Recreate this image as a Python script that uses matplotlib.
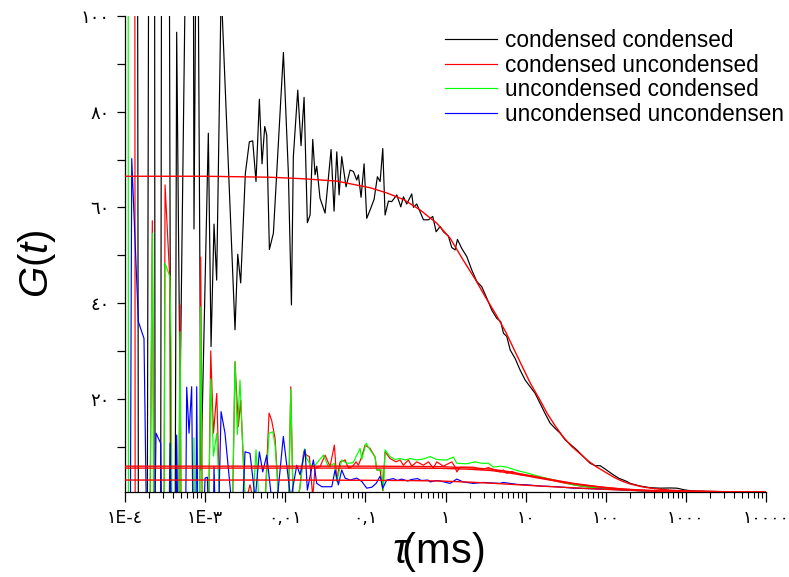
import numpy as np
import matplotlib.pyplot as plt
from matplotlib.ticker import FixedLocator, FixedFormatter, MultipleLocator, LogLocator, NullFormatter

plt.rcParams['font.family'] = ['Liberation Sans', 'DejaVu Sans']
plt.rcParams['mathtext.fontset'] = 'custom'
plt.rcParams['mathtext.rm'] = 'Liberation Sans'
plt.rcParams['mathtext.it'] = 'Liberation Sans:italic'

# lag times are stored as log10(tau / ms), amplitudes as G(tau)
cc_lag = [-4.0, -3.875, -3.792, -3.650, -3.600, -3.509, -3.396, -3.38, -3.355, -3.313,
          -3.25, -3.17, -3.139, -3.10, -3.051, -2.960, -2.926, -2.889, -2.856, -2.80,
          -2.627, -2.593, -2.556, -2.498, -2.448, -2.406, -2.365, -2.323, -2.290, -2.256,
          -2.231, -2.198, -2.148, -2.023, -1.961, -1.923, -1.899, -1.844, -1.803, -1.765,
          -1.724, -1.690, -1.657, -1.628, -1.607, -1.566, -1.503, -1.428, -1.391, -1.357,
          -1.328, -1.295, -1.241, -1.191, -1.149, -1.108, -1.087, -1.054, -1.016, -0.983,
          -0.933, -0.891, -0.850, -0.816, -0.783, -0.754, -0.712, -0.671, -0.608, -0.558,
          -0.525, -0.484, -0.421, -0.400, -0.359, -0.275, -0.213, -0.159, -0.117, -0.067,
          -0.026, 0.036, 0.078, 0.120, 0.149, 0.203, 0.266, 0.328, 0.391, 0.453,
          0.516, 0.578, 0.640, 0.690, 0.723, 0.765, 0.807, 0.869, 0.931, 0.994,
          1.056, 1.119, 1.181, 1.243, 1.306, 1.368, 1.431, 1.493, 1.556, 1.639,
          1.722, 1.805, 1.868, 1.930, 1.993, 2.076, 2.159, 2.264, 2.305, 2.43,
          2.554, 2.679, 2.804, 2.888, 2.991, 3.091, 3.3, 3.6, 4.0]
cc_g = [450, 500, -500, 500, -500, 500, -200, -40, 96.6, 20.1,
        105, 300, 55.5, 150, 5.1, 75.5, 30.9, 56.5, 44.8, 106,
        34.4, 50.2, 44.2, 67.1, 73.7, 73.9, 65.4, 82.6, 69.1, 76.9,
        75.1, 51.2, 54.6, 92.4, 67.1, 39.6, 70.6, 84.5, 72.9, 83.0,
        56.8, 58.4, 74.2, 66.8, 68.6, 61.9, 58.8, 72.1, 59.2, 71.6,
        62.6, 70.6, 64.3, 67.8, 67.5, 65.7, 66.8, 62.1, 69.1, 57.7,
        59.8, 61.7, 66.4, 65.4, 72.3, 58.4, 61.3, 61.2, 62.6, 60.1,
        62.2, 60.7, 62.8, 60.0, 60.7, 57.4, 57.4, 58.1, 54.9, 56.0,
        54.9, 54.0, 51.6, 51.1, 53.3, 51.4, 49.7, 46.9, 44.5, 43.4,
        41.0, 38.5, 36.8, 36.1, 33.7, 33.0, 30.2, 28.4, 26.0, 23.9,
        22.5, 21.1, 19.0, 16.9, 14.9, 13.8, 12.8, 11.4, 10.5, 9.3,
        7.9, 6.5, 6.0, 6.0, 5.3, 4.3, 3.4, 2.7, 2.3, 1.75,
        1.4, 1.3, 1.34, 1.3, 0.92, 0.7, 0.6, 0.55, 0.55]

cu_lag = [-4.0, -3.89, -3.86, -3.659, -3.61, -3.53, -3.50, -3.44, -3.42, -3.36,
          -3.313, -3.28, -3.08, -3.055, -3.03, -2.96, -2.93, -2.896, -2.855, -2.815,
          -2.66, -2.627, -2.585, -2.556, -2.50, -2.44, -2.40, -2.25, -2.202, -2.17,
          -2.127, -2.074, -1.96, -1.931, -1.90, -1.82, -1.77, -1.732, -1.699, -1.657,
          -1.628, -1.566, -1.503, -1.441, -1.387, -1.357, -1.316, -1.253, -1.212, -1.157,
          -1.116, -1.087, -1.045, -1.004, -0.941, -0.879, -0.858, -0.816, -0.783, -0.754,
          -0.692, -0.617, -0.567, -0.526, -0.463, -0.421, -0.358, -0.276, -0.213, -0.151,
          -0.109, -0.026, 0.079, 0.120, 0.141, 0.182, 0.348, 0.453, 0.536, 0.682,
          0.723, 0.765, 0.828, 0.931, 1.097, 1.265, 1.472, 1.680, 1.889, 2.139,
          2.43, 2.8, 3.2, 3.6, 4.0]
cu_g = [450, 500, -400, 57.2, -100, -100, 64.7, 44.8, -100, -100,
        39.6, -80, -60, 49.6, -20, -10, 30.0, 12.8, 21.1, -3,
        -5, 27.7, 14.2, 19.7, -2, 2.0, -1, -1, 17.0, 15.5,
        11.7, -3, -3, 22.5, -3, 1.0, 9.0, 8.2, 7.9, -0.5,
        5.5, 5.8, 8.2, 5.8, 10.3, 3.0, 6.8, 7.2, 5.5, 5.9,
        6.8, 6.1, 7.9, 10.3, 9.6, 7.8, 5.1, 5.1, 0.8, 8.9,
        7.5, 6.8, 7.2, 6.1, 7.2, 5.9, 6.8, 6.1, 6.8, 5.5,
        6.8, 5.9, 6.8, 5.7, 4.7, 5.7, 5.7, 5.2, 5.6, 4.7,
        5.1, 4.4, 4.8, 4.1, 3.8, 3.2, 2.4, 1.75, 1.3, 1.06,
        0.77, 0.65, 0.6, 0.58, 0.58]

uc_lag = [-4.0, -3.97, -3.945, -3.659, -3.615, -3.53, -3.50, -3.44, -3.425, -3.40,
          -3.35, -3.313, -3.28, -3.16, -3.139, -3.12, -3.09, -3.055, -3.02, -2.96,
          -2.93, -2.896, -2.855, -2.815, -2.66, -2.627, -2.598, -2.565, -2.50, -2.40,
          -2.365, -2.33, -2.25, -2.202, -2.156, -2.127, -2.074, -1.96, -1.931, -1.90,
          -1.82, -1.76, -1.732, -1.669, -1.628, -1.524, -1.462, -1.387, -1.357, -1.295,
          -1.232, -1.154, -1.066, -1.045, -0.991, -0.941, -0.879, -0.858, -0.795, -0.775,
          -0.754, -0.692, -0.629, -0.567, -0.504, -0.442, -0.358, -0.276, -0.192, -0.109,
          -0.026, 0.016, 0.099, 0.141, 0.266, 0.370, 0.453, 0.536, 0.598, 0.682,
          0.765, 0.890, 1.015, 1.181, 1.390, 1.597, 1.805, 2.014, 2.221, 2.43,
          2.8, 3.2, 3.6, 4.0]
uc_g = [500, 500, -500, 54.6, -80, -80, 48.3, 45.5, 31.6, -60,
        -60, 34.0, -60, -40, 11.8, -40, -60, 39.2, -40, -10,
        24.1, 8.0, 12.8, -3, -5, 27.8, 12.5, 23.9, -2, -1,
        9.3, -1, -1, 12.8, 13.1, 10.3, -3, -3, 22.0, -3,
        1.0, 9.5, 7.5, 5.8, 6.1, 8.2, 5.8, 6.5, 2.7, 7.2,
        6.5, 6.6, 9.6, 7.3, 10.7, 9.3, 7.8, 5.1, 5.1, 0.8,
        9.3, 7.9, 7.3, 7.5, 7.2, 7.5, 7.2, 7.4, 7.9, 7.3,
        7.2, 7.2, 7.8, 6.5, 6.4, 6.8, 6.5, 6.5, 5.7, 5.9,
        5.7, 5.0, 4.5, 3.7, 2.9, 2.0, 1.5, 1.2, 0.9, 0.77,
        0.65, 0.6, 0.58, 0.58]

uu_lag = [-4.0, -3.916, -3.833, -3.763, -3.72, -3.64, -3.613, -3.555, -3.53, -3.46,
          -3.438, -3.41, -3.37, -3.355, -3.33, -3.25, -3.23, -3.201, -3.168, -3.145,
          -3.12, -3.105, -3.085, -3.03, -3.001, -2.972, -2.95, -2.90, -2.889, -2.876,
          -2.83, -2.801, -2.752, -2.668, -2.53, -2.502, -2.44, -2.375, -2.323, -2.281,
          -2.231, -2.17, -2.10, -2.024, -1.931, -1.856, -1.815, -1.753, -1.724, -1.649,
          -1.607, -1.544, -1.419, -1.378, -1.337, -1.295, -1.253, -1.191, -1.107, -1.045,
          -0.983, -0.920, -0.866, -0.816, -0.783, -0.733, -0.650, -0.60, -0.55, -0.47,
          -0.43, -0.35, -0.30, -0.22, -0.19, -0.11, -0.067, 0.057, 0.141, 0.22,
          0.348, 0.47, 0.682, 0.72, 0.89, 1.015, 1.181, 1.39, 1.597, 1.805,
          2.014, 2.221, 2.43, 2.8, 3.2, 3.6, 4.0]
uu_g = [-300, 70.2, 36.1, 32.6, -20, -20, 12.8, 10.7, -20, -20,
        10.7, -20, -20, 12.4, -20, -20, 22.4, 12.8, 22.5, -20,
        -20, 22.5, -20, -10, 3.4, 3.6, -10, -10, 5.8, -3,
        -3, 17.3, 12.8, -2, -2, 8.9, 8.6, -1, 8.9, 4.7,
        8.2, -1, -1, 12.1, -1, 6.1, 4.1, 9.4, 0.9, 7.2,
        2.3, 1.6, 1.6, 5.1, 2.0, 5.1, 3.4, 3.0, 3.4, 2.7,
        1.3, 1.5, 2.3, 3.8, 1.3, 3.0, 3.3, 2.9, 3.2, 2.8,
        3.1, 3.3, 2.9, 3.0, 2.6, 2.9, 2.8, 2.3, 3.2, 2.6,
        2.3, 2.5, 2.3, 2.5, 2.1, 2.0, 1.75, 1.6, 1.3, 1.2,
        1.06, 0.94, 0.77, 0.65, 0.6, 0.58, 0.58]

# fitted model curves
cc_fit_lag = [-4.0, -3.0, -2.2, -1.8, -1.36, -0.94, -0.73, -0.52, -0.32, -0.11,
              0.06, 0.22, 0.37, 0.5, 0.64, 0.75, 0.85, 0.95, 1.06, 1.17,
              1.27, 1.37, 1.47, 1.57, 1.68, 1.78, 1.89, 2.0, 2.1, 2.2,
              2.3, 2.45, 2.6, 2.8, 3.0, 3.5, 4.0]
cc_fit_g = [66.5, 66.5, 66.3, 66.0, 65.5, 64.1, 63.0, 61.6, 59.5, 56.7,
            53.5, 49.0, 45.0, 41.2, 37.3, 34.0, 30.5, 27.0, 23.2, 20.0,
            16.9, 14.3, 12.0, 10.1, 8.5, 7.0, 5.7, 4.6, 3.6, 2.8,
            2.2, 1.6, 1.2, 0.9, 0.7, 0.55, 0.55]

low_fit_lag = [-4.0, -2.0, -1.0, -0.5, -0.07, 0.25, 0.56, 0.77, 0.97, 1.18,
               1.39, 1.6, 1.8, 2.0, 2.2, 2.4, 2.6, 3.0, 3.5, 4.0]
uc_fit_g = [5.9, 5.9, 5.9, 5.85, 5.8, 5.6, 5.3, 4.8, 4.2, 3.55,
            2.9, 2.3, 1.85, 1.45, 1.15, 0.95, 0.8, 0.62, 0.56, 0.55]
cu_fit_g = [5.5, 5.5, 5.5, 5.5, 5.45, 5.3, 5.0, 4.55, 4.0, 3.35,
            2.75, 2.2, 1.75, 1.4, 1.1, 0.9, 0.75, 0.62, 0.56, 0.55]
uu_fit_g = [3.0, 3.0, 2.95, 2.9, 2.8, 2.6, 2.35, 2.15, 1.95, 1.75,
            1.55, 1.38, 1.2, 1.05, 0.92, 0.8, 0.7, 0.6, 0.56, 0.55]

series_names = ["condensed condensed", "condensed uncondensed",
                "uncondensed condensed", "uncondensed uncondensen"]
series_colors = ["#000000", "#ff0000", "#00ff00", "#0000ff"]

x_ticks = [1e-4, 1e-3, 1e-2, 1e-1, 1, 10, 100, 1000, 10000]
x_tick_labels = ["١E-٤", "١E-٣", "٠,٠١", "٠,١", "١", "١٠", "١٠٠", "١٠٠٠", "١٠٠٠٠"]
y_ticks = [20, 40, 60, 80, 100]
y_tick_labels = ["٢٠", "٤٠", "٦٠", "٨٠", "١٠٠"]

fig = plt.figure(figsize=(7.89, 5.77), dpi=100)
ax = fig.add_axes([125 / 789, 85 / 577, 641 / 789, 476 / 577])

data = [(cc_lag, cc_g), (cu_lag, cu_g), (uc_lag, uc_g), (uu_lag, uu_g)]
for (lag, g), col, name in zip(data, series_colors, series_names):
    ax.plot(10 ** np.array(lag), g, color=col, lw=0.85, label=name)

ax.plot(10 ** np.array(cc_fit_lag), cc_fit_g, color="#ff0000", lw=1.0, zorder=3)
for g in (uc_fit_g, cu_fit_g, uu_fit_g):
    ax.plot(10 ** np.array(low_fit_lag), g, color="#ff0000", lw=1.0, zorder=3)

ax.set_xscale("log")
ax.set_xlim(1e-4, 1e4)
ax.set_ylim(0.5, 100)

ax.xaxis.set_major_locator(FixedLocator(x_ticks))
ax.xaxis.set_major_formatter(FixedFormatter(x_tick_labels))
ax.xaxis.set_minor_locator(LogLocator(base=10, subs=np.arange(2, 10), numticks=20))
ax.xaxis.set_minor_formatter(NullFormatter())
ax.yaxis.set_major_locator(FixedLocator(y_ticks))
ax.yaxis.set_major_formatter(FixedFormatter(y_tick_labels))
ax.yaxis.set_minor_locator(MultipleLocator(10))

for lab in ax.get_xticklabels() + ax.get_yticklabels():
    lab.set_fontfamily("DejaVu Sans")
ax.tick_params(axis="x", which="major", direction="out", length=7, width=0.9, labelsize=12.5, pad=5)
ax.tick_params(axis="x", which="minor", direction="out", length=4, width=0.8)
ax.tick_params(axis="y", which="both", direction="out", length=6, width=0.9, labelsize=13, pad=5)

for side in ("top", "right"):
    ax.spines[side].set_visible(False)
for side in ("left", "bottom"):
    ax.spines[side].set_linewidth(0.9)

ax.legend(loc="upper left", bbox_to_anchor=(445 / 789, 1 - 29 / 577),
          bbox_transform=fig.transFigure, frameon=False, fontsize=16.3,
          handlelength=2.3, handletextpad=0.34, labelspacing=0.07,
          borderpad=0, borderaxespad=0)

fig.text(37 / 789, 1 - 264 / 577, r"$G(t)$", rotation=90, fontsize=29,
         ha="center", va="center")
# tau pushed up against the bracket with a negative math space
fig.text(438 / 789, 1 - 552 / 577, r"$\tau\!\mathrm{(ms)}$", fontsize=30,
         ha="center", va="center")

fig.savefig("out.png", dpi=100)
